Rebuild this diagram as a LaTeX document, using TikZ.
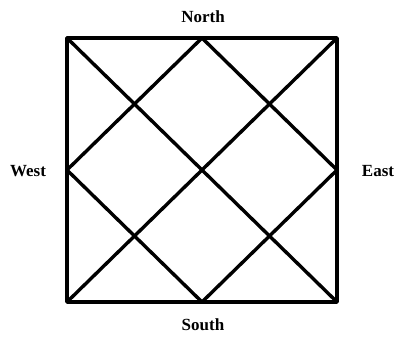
\documentclass[tikz,border=0pt]{standalone}
\usepackage{fontspec}
\setmainfont{Liberation Serif}
\begin{document}
\begin{tikzpicture}[x=1pt,y=1pt,
  edge/.style={line width=3.4pt,line cap=round,line join=round},
  lbl/.style={font=\fontsize{17}{19}\selectfont\bfseries,inner sep=0pt}]
\useasboundingbox (0,0) rectangle (397,337);
\coordinate (sw) at (67,35);
\coordinate (se) at (337,35);
\coordinate (ne) at (337,299);
\coordinate (nw) at (67,299);
\coordinate (n) at (202,299);
\coordinate (s) at (202,35);
\coordinate (w) at (67,167);
\coordinate (e) at (337,167);
\draw[edge] (sw) -- (se) -- (ne) -- (nw) -- cycle;
\draw[edge] (sw) -- (ne);
\draw[edge] (nw) -- (se);
\draw[edge] (n) -- (e) -- (s) -- (w) -- cycle;
\node[lbl] (north) at (203,320) {North};
\node[lbl] (south) at (203,12) {South};
\node[lbl] (west) at (28,166) {West};
\node[lbl] (east) at (378,166) {East};
\end{tikzpicture}
\end{document}
